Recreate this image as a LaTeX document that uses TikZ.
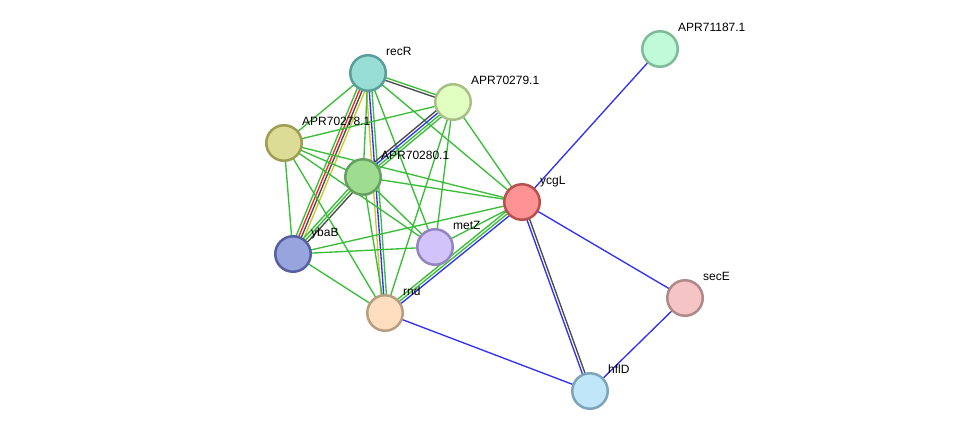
\documentclass[tikz,border=0pt]{standalone}
\usepackage{fontspec}
\setmainfont{Liberation Sans}
\usetikzlibrary{calc,backgrounds}

\definecolor{tmgreen}{RGB}{58,190,58}
\definecolor{cxblack}{RGB}{75,75,75}
\definecolor{ccblue}{RGB}{50,50,240}
\definecolor{fsred}{RGB}{240,40,40}
\definecolor{nbyellow}{RGB}{200,200,40}

\tikzset{
  prot/.style={circle, minimum size=35.5pt, inner sep=0pt, line width=2.5pt},
  lbl/.style={anchor=base west, inner sep=0pt, font=\fontsize{12}{14}\selectfont},
  lgreen/.style={draw=tmgreen, line width=1.35pt},
  lblack/.style={draw=cxblack, line width=1.35pt},
  lblue/.style={draw=ccblue, line width=1.35pt},
  lred/.style={draw=fsred, line width=1.35pt},
  lyellow/.style={draw=nbyellow, line width=1.35pt},
}

% one bundle of parallel evidence lines between two proteins
\newcommand{\linkbundle}[3]{%
  \xdef\nlinks{0}%
  \foreach \c in {#3}{\xdef\nlinks{\the\numexpr\nlinks+1\relax}}%
  \foreach \c [count=\i] in {#3}{%
    \pgfmathsetmacro\off{(\i-(\nlinks+1)/2)*2.7}%
    \draw[\c] ($(#1)!\off pt!90:(#2)$) -- ($(#2)!\off pt!-90:(#1)$);
  }%
}

\begin{document}
\begin{tikzpicture}[x=1pt,y=-1pt,line cap=round,line join=round]
  \useasboundingbox (0,0) rectangle (976,437);
  %% proteins
  \node[prot, fill={rgb,255:red,152;green,222;blue,214}, draw={rgb,255:red,90;green,158;blue,152}] (recR) at (368,73) {};
  \node[prot, fill={rgb,255:red,226;green,255;blue,194}, draw={rgb,255:red,168;green,192;blue,136}] (apr279) at (453,102) {};
  \node[prot, fill={rgb,255:red,220;green,220;blue,150}, draw={rgb,255:red,158;green,158;blue,82}] (apr278) at (284,143) {};
  \node[prot, fill={rgb,255:red,158;green,221;blue,144}, draw={rgb,255:red,102;green,160;blue,96}] (apr280) at (363,177) {};
  \node[prot, fill={rgb,255:red,255;green,146;blue,146}, draw={rgb,255:red,184;green,80;blue,80}] (ycgL) at (522,202) {};
  \node[prot, fill={rgb,255:red,152;green,164;blue,222}, draw={rgb,255:red,86;green,96;blue,160}] (ybaB) at (293,254) {};
  \node[prot, fill={rgb,255:red,210;green,196;blue,250}, draw={rgb,255:red,148;green,132;blue,192}] (metZ) at (435,247) {};
  \node[prot, fill={rgb,255:red,255;green,222;blue,192}, draw={rgb,255:red,184;green,158;blue,128}] (rnd) at (385,313) {};
  \node[prot, fill={rgb,255:red,192;green,230;blue,250}, draw={rgb,255:red,126;green,164;blue,188}] (hflD) at (590,391) {};
  \node[prot, fill={rgb,255:red,245;green,196;blue,196}, draw={rgb,255:red,176;green,136;blue,136}] (secE) at (685,298) {};
  \node[prot, fill={rgb,255:red,192;green,250;blue,216}, draw={rgb,255:red,126;green,188;blue,152}] (apr187) at (660,49) {};
  %% labels
  \node[lbl] (recR-l) at ([shift={(18,-18)}]recR.center) {recR};
  \node[lbl] (apr279-l) at ([shift={(18,-18)}]apr279.center) {APR70279.1};
  \node[lbl] (apr278-l) at ([shift={(18,-18)}]apr278.center) {APR70278.1};
  \node[lbl] (apr280-l) at ([shift={(18,-18)}]apr280.center) {APR70280.1};
  \node[lbl] (ycgL-l) at ([shift={(18,-18)}]ycgL.center) {ycgL};
  \node[lbl] (ybaB-l) at ([shift={(18,-18)}]ybaB.center) {ybaB};
  \node[lbl] (metZ-l) at ([shift={(18,-18)}]metZ.center) {metZ};
  \node[lbl] (rnd-l) at ([shift={(18,-18)}]rnd.center) {rnd};
  \node[lbl] (hflD-l) at ([shift={(18,-18)}]hflD.center) {hflD};
  \node[lbl] (secE-l) at ([shift={(18,-18)}]secE.center) {secE};
  \node[lbl] (apr187-l) at ([shift={(18,-18)}]apr187.center) {APR71187.1};
  %% interactions
  \begin{scope}[on background layer]
    \linkbundle{recR}{ybaB}{lgreen,lred,lblack,lyellow}
    \linkbundle{recR}{rnd}{lyellow,lblue,lgreen}
    \linkbundle{recR}{apr279}{lblack,lgreen}
    \linkbundle{recR}{apr278}{lgreen}
    \linkbundle{recR}{apr280}{lgreen}
    \linkbundle{recR}{metZ}{lgreen}
    \linkbundle{recR}{ycgL}{lgreen}
    \linkbundle{apr279}{apr280}{lblack,lblue,lgreen,lgreen}
    \linkbundle{apr279}{apr278}{lgreen}
    \linkbundle{apr279}{ycgL}{lgreen}
    \linkbundle{apr279}{metZ}{lgreen}
    \linkbundle{apr279}{rnd}{lgreen}
    \linkbundle{apr280}{ybaB}{lgreen,lgreen,lblack}
    \linkbundle{apr278}{ybaB}{lgreen}
    \linkbundle{apr278}{apr280}{lgreen}
    \linkbundle{apr278}{ycgL}{lgreen}
    \linkbundle{apr278}{metZ}{lgreen}
    \linkbundle{apr278}{rnd}{lgreen}
    \linkbundle{apr280}{ycgL}{lgreen}
    \linkbundle{apr280}{metZ}{lgreen}
    \linkbundle{apr280}{rnd}{lgreen}
    \linkbundle{ybaB}{ycgL}{lgreen}
    \linkbundle{ybaB}{metZ}{lgreen}
    \linkbundle{ybaB}{rnd}{lgreen}
    \linkbundle{metZ}{ycgL}{lgreen}
    \linkbundle{rnd}{ycgL}{lblue,lgreen,lgreen}
    \linkbundle{rnd}{hflD}{lblue}
    \linkbundle{ycgL}{apr187}{lblue}
    \linkbundle{ycgL}{secE}{lblue}
    \linkbundle{ycgL}{hflD}{lblue,lblack}
    \linkbundle{secE}{hflD}{lblue}
  \end{scope}
\end{tikzpicture}
\end{document}
